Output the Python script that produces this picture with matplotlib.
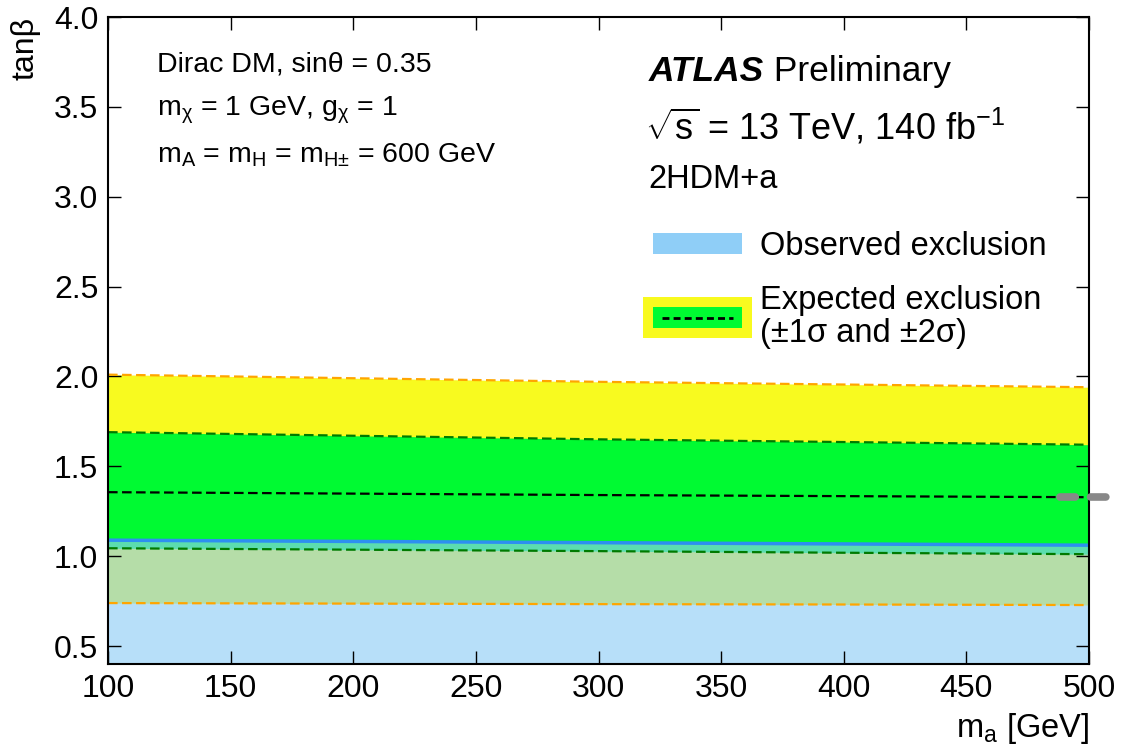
import matplotlib
matplotlib.use('Agg')
import matplotlib.pyplot as plt
from matplotlib.patches import Patch, Rectangle
from matplotlib.lines import Line2D

plt.rcParams['font.family'] = ['Liberation Sans', 'DejaVu Sans']
plt.rcParams['mathtext.fontset'] = 'custom'
plt.rcParams['mathtext.rm'] = 'Liberation Sans'
plt.rcParams['mathtext.it'] = 'Liberation Sans:italic'
plt.rcParams['mathtext.sf'] = 'Liberation Sans'

# m_a points [GeV] and tan(beta) limits
m_a = [100, 200, 300, 400, 500]
exp_p2 = [2.01, 1.99, 1.97, 1.955, 1.94]
exp_p1 = [1.69, 1.67, 1.65, 1.635, 1.62]
exp_med = [1.356, 1.348, 1.340, 1.334, 1.328]
exp_m1 = [1.044, 1.036, 1.028, 1.019, 1.011]
exp_m2 = [0.739, 0.736, 0.733, 0.731, 0.728]
observed = [1.089, 1.082, 1.075, 1.068, 1.061]

# grey marker at the right edge
marker_x = [488, 510]
marker_y = [1.33, 1.33]

x_ticks = [100, 150, 200, 250, 300, 350, 400, 450, 500]
y_ticks = [0.5, 1.0, 1.5, 2.0, 2.5, 3.0, 3.5, 4.0]

yellow = '#f8fa1f'
green = '#00fa32'
obs_fill = '#8fcef7'

leg_fs = 23.5
px = leg_fs * 100 / 72.0


class ExpectedHandler:
    def legend_artist(self, legend, orig_handle, fontsize, handlebox):
        x0, y0 = -handlebox.xdescent, -handlebox.ydescent
        w, h = handlebox.width, handlebox.height
        pad = 10 * 72 / 100.0
        tr = handlebox.get_transform()
        outer = Rectangle((x0 - pad, y0 - pad), w + 2 * pad, h + 2 * pad,
                          facecolor=yellow, edgecolor='none', transform=tr)
        inner = Rectangle((x0, y0), w, h, facecolor=green, edgecolor='none', transform=tr)
        line = Line2D([x0 + 0.1 * w, x0 + 0.9 * w], [y0 + h / 2, y0 + h / 2],
                      color='black', lw=2, ls=(0, (2.5, 1.5)), transform=tr)
        handlebox.add_artist(outer)
        handlebox.add_artist(inner)
        handlebox.add_artist(line)
        return inner


fig = plt.figure(figsize=(11.22, 7.49), dpi=100)
ax = fig.add_axes([0.0963, 0.1135, 0.8743, 0.8638])

ax.fill_between(m_a, exp_m2, exp_p2, color=yellow, lw=0)
ax.fill_between(m_a, exp_m1, exp_p1, color=green, lw=0)
ax.fill_between(m_a, 0.4, observed, color=obs_fill, alpha=0.64, lw=0)
ax.plot(m_a, observed, color='#2d8ff0', lw=2.5)

dash = (0, (4.3, 2.0))
ax.plot(m_a, exp_p2, color='#ffa500', lw=1.6, ls=dash)
ax.plot(m_a, exp_m2, color='#ffa500', lw=1.6, ls=dash)
ax.plot(m_a, exp_p1, color='#007a00', lw=1.6, ls=dash)
ax.plot(m_a, exp_m1, color='#007a00', lw=1.6, ls=dash)
ax.plot(m_a, exp_med, color='black', lw=1.6, ls=dash)

ax.plot(marker_x, marker_y, color='#888888', lw=5.5, ls=(0, (2.0, 2.0)),
        dash_capstyle='round', clip_on=False, zorder=10)

ax.set_xlim(100, 500)
ax.set_ylim(0.4, 4.0)
ax.set_xticks(x_ticks)
ax.set_yticks(y_ticks)
ax.set_yticklabels(['%.1f' % v for v in y_ticks])
ax.tick_params(direction='in', length=9.5, width=1, top=True, right=True,
               labelsize=23, pad=7)
for s in ax.spines.values():
    s.set_linewidth(1.5)

ax.set_xlabel(r'm$_\mathrm{a}$ [GeV]', fontsize=23.5, loc='right')
ax.xaxis.set_label_coords(1.0, -0.072)
ax.xaxis.label.set_va('top')
ax.set_ylabel('tanβ', fontsize=23, loc='top')
ax.yaxis.set_label_coords(-0.069, 1.0)

# left-hand model text
ax.text(0.05, 0.926, 'Dirac DM, sinθ = 0.35', transform=ax.transAxes,
        fontsize=20.5, va='center')
ax.text(0.05, 0.856, r'm$_\mathrm{χ}$ = 1 GeV, g$_\mathrm{χ}$ = 1', transform=ax.transAxes,
        fontsize=20.5, va='center')
ax.text(0.05, 0.787, r'm$_\mathrm{A}$ = m$_\mathrm{H}$ = m$_\mathrm{H±}$ = 600 GeV',
        transform=ax.transAxes, fontsize=20.5, va='center')

# ATLAS label
t1 = ax.text(0.551, 0.916, 'ATLAS', transform=ax.transAxes, fontsize=25.5,
             fontweight='bold', style='italic', va='center')
ax.annotate(' Preliminary', xy=(1, 0), xycoords=t1, fontsize=25.5, va='bottom')
ax.text(0.547, 0.830, r'$\sqrt{\mathrm{s}}$ = 13 TeV, 140 fb$^{-1}$', transform=ax.transAxes,
        fontsize=26, va='center')
ax.text(0.551, 0.749, '2HDM+a', transform=ax.transAxes, fontsize=23.5, va='center')

handles = [Patch(facecolor=obs_fill, edgecolor='none'), Patch()]
labels = ['Observed exclusion', 'Expected exclusion\n(±1σ and ±2σ)']
leg = ax.legend(handles, labels, handler_map={handles[1]: ExpectedHandler()},
                loc='upper left', bbox_to_anchor=(0.5556, 0.669), frameon=False,
                fontsize=leg_fs, handlelength=89 / px, handleheight=20 / px,
                handletextpad=18 / px, labelspacing=0.7, borderpad=0, borderaxespad=0)
leg.get_texts()[1].set_linespacing(1.1)

fig.savefig('out.png', dpi=100)
